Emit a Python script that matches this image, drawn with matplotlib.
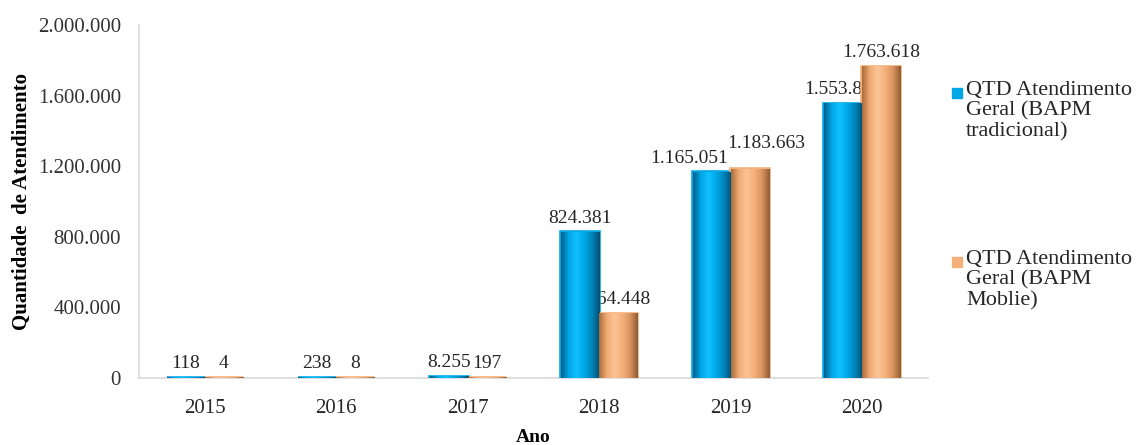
import matplotlib
matplotlib.use('Agg')
import matplotlib.pyplot as plt
import numpy as np
from matplotlib.colors import LinearSegmentedColormap
from matplotlib.patches import Rectangle

anos = ['2015', '2016', '2017', '2018', '2019', '2020']
tradicional = [118, 238, 8255, 824381, 1165051, 1553810]
mobile = [4, 8, 197, 364448, 1183663, 1763618]
yticks = [0, 400000, 800000, 1200000, 1600000, 2000000]
serie_nomes = ['QTD Atendimento\nGeral (BAPM\ntradicional)',
               'QTD Atendimento\nGeral (BAPM\nMoblie)']

SERIF = ['Liberation Serif', 'DejaVu Serif']
plt.rcParams['font.family'] = SERIF


def fmt(v):
    # separador de milhar com ponto
    return f'{v:,}'.replace(',', '.')


# sombreamento tipo cilindro
cmap_azul = LinearSegmentedColormap.from_list(
    'azul', ['#005f8a', '#00a6e6', '#12c0ff', '#00a8e8', '#0083b8', '#004f72'])
cmap_laranja = LinearSegmentedColormap.from_list(
    'laranja', ['#a86a3c', '#f0aa72', '#fcc496', '#f4b07a', '#d99460', '#8f5a32'])
grad = np.linspace(0, 1, 256).reshape(1, -1)

# deslocamento (pontos) dos rótulos que se sobrepõem em 2019
ajuste = {(4, 0): (-16, 0), (4, 1): (12, 8)}

fig = plt.figure(figsize=(11.41, 4.45), dpi=100)
ax = fig.add_axes([139 / 1141, 1 - 378 / 445, 789 / 1141, 353 / 445])

x = np.arange(len(anos))
w = 0.29
series = [(tradicional, -w / 2, '#00a6e6', cmap_azul),
          (mobile, w / 2, '#f4b07a', cmap_laranja)]

for k, (vals, off, cor, cm) in enumerate(series):
    bars = ax.bar(x + off, vals, w, color=cor, edgecolor=cor, linewidth=2.6, zorder=3)
    for b in bars:
        bx, bw, bh = b.get_x(), b.get_width(), b.get_height()
        ax.imshow(grad, extent=[bx, bx + bw, 0, bh], aspect='auto', cmap=cm, zorder=3.5)
    for i, (xi, v) in enumerate(zip(x + off, vals)):
        dx, dy = ajuste.get((i, k), (0, 0))
        ax.annotate(fmt(v), (xi, v), xytext=(dx, 4 + dy), textcoords='offset points',
                    ha='center', va='bottom', fontsize=14, color='#262626', zorder=2)

ax.set_xlim(-0.5, len(anos) - 0.5)
ax.set_ylim(0, 2000000)
ax.set_xticks(x)
ax.set_xticklabels(anos, fontsize=15, color='#262626')
ax.set_yticks(yticks)
ax.set_yticklabels([fmt(v) for v in yticks], fontsize=15, color='#333333')
ax.tick_params(axis='both', length=0)
ax.tick_params(axis='x', pad=15)
ax.tick_params(axis='y', pad=13)

for s in ['top', 'right']:
    ax.spines[s].set_visible(False)
for s in ['left', 'bottom']:
    ax.spines[s].set_color('#d9d9d9')
    ax.spines[s].set_linewidth(1.2)

ax.set_xlabel('Ano', fontsize=14, fontweight='bold', labelpad=8)
ax.set_ylabel('Quantidade  de Atendimento', fontsize=15, fontweight='bold', labelpad=4)

# legenda à direita
for (vals, off, cor, cm), nome, ytop in zip(series, serie_nomes, [93, 262]):
    fig.patches.append(Rectangle((952 / 1141, 1 - (ytop + 5) / 445), 10 / 1141, 10 / 445,
                                 transform=fig.transFigure, color=cor, figure=fig))
    fig.text(966 / 1141, 1 - (ytop - 12) / 445, nome, fontsize=16, va='top', ha='left',
             family=SERIF, color='#262626', linespacing=1.1)

fig.savefig('out.png', dpi=100)
